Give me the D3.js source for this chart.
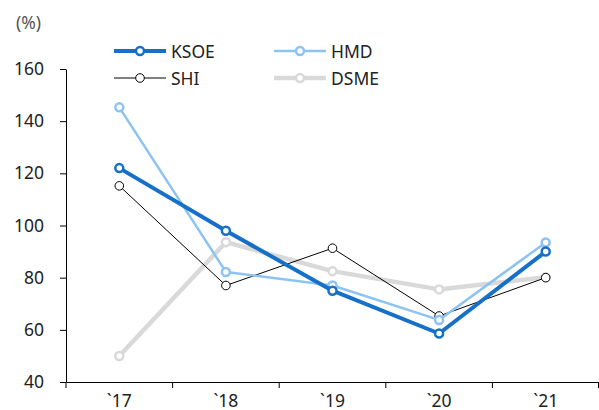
<!DOCTYPE html>
<html><head><meta charset="utf-8">
<script src="https://cdn.jsdelivr.net/npm/d3@7"></script>
<style>body{margin:0;background:#fff}svg{display:block;font-family:"Noto Sans",sans-serif}</style>
</head><body><svg id="c" width="599" height="410"></svg>
<script>
const categories = ["`17","`18","`19","`20","`21"];
const ksoe = [122, 98, 75, 58.6, 90];
const hmd  = [145.3, 82.2, 77, 63.8, 93.5];
const shi  = [115.2, 77, 91.3, 65.3, 80];
const dsme = [50, 93.6, 82.5, 75.5, 80.2];
const yTicks = [40, 60, 80, 100, 120, 140, 160];

const series = [
  {name:"DSME", values:dsme, color:"#d9d9d9", w:4.5},
  {name:"SHI", values:shi, color:"#000000", w:1},
  {name:"HMD", values:hmd, color:"#8dc3f2", w:2.5},
  {name:"KSOE", values:ksoe, color:"#1670c8", w:4}
];
const FS = 17.5;

const svg = d3.select("#c");
const x = d3.scaleBand().domain(categories).range([66, 599]);
const y = d3.scaleLinear().domain([40, 160]).range([382, 69]);

const gx = svg.append("g").attr("transform","translate(0,382)")
  .call(d3.axisBottom(x).tickSize(0).tickPadding(13));
gx.select(".domain").attr("stroke","#000");
gx.selectAll("text").attr("font-size",FS).attr("fill","#222").attr("font-family","Noto Sans");
const bounds = categories.map(c=>x(c)).concat([x.range()[1]-0.5]);
svg.append("g").selectAll("line").data(bounds).join("line")
  .attr("x1",d=>d).attr("x2",d=>d).attr("y1",382).attr("y2",388).attr("stroke","#000");

const gy = svg.append("g").attr("transform","translate(66,0)")
  .call(d3.axisLeft(y).tickValues(yTicks).tickSize(6).tickPadding(16).tickSizeOuter(0));
gy.select(".domain").attr("stroke","#000");
gy.selectAll(".tick line").attr("stroke","#000");
gy.selectAll("text").attr("font-size",FS).attr("fill","#222").attr("font-family","Noto Sans");

svg.append("text").attr("x",16).attr("y",29).text("(%)").attr("font-size",FS).attr("fill","#555");

const line = d3.line().x((d,i)=>x(categories[i])+x.bandwidth()/2).y(d=>y(d));
series.forEach(s=>{
  svg.append("path").datum(s.values).attr("d",line).attr("fill","none")
    .attr("stroke",s.color).attr("stroke-width",s.w).attr("stroke-linejoin","round");
  svg.append("g").selectAll("circle").data(s.values).join("circle")
    .attr("cx",(d,i)=>x(categories[i])+x.bandwidth()/2).attr("cy",d=>y(d))
    .attr("r", s.w>=2.5 ? 4 : 4.3).attr("fill","#fff").attr("stroke",s.color)
    .attr("stroke-width", s.w>=2.5 ? 2.5 : 1);
});

const legend = [
  {name:"KSOE", color:"#1670c8", w:4, lx:114, ly:51},
  {name:"HMD", color:"#8dc3f2", w:2.5, lx:274, ly:51},
  {name:"SHI", color:"#000000", w:1, lx:114, ly:78},
  {name:"DSME", color:"#d9d9d9", w:4.5, lx:274, ly:78}
];
legend.forEach(l=>{
  const g = svg.append("g");
  g.append("line").attr("x1",l.lx).attr("x2",l.lx+52).attr("y1",l.ly).attr("y2",l.ly)
    .attr("stroke",l.color).attr("stroke-width",l.w);
  g.append("circle").attr("cx",l.lx+26).attr("cy",l.ly).attr("r",l.w>=2.5?4:4.3)
    .attr("fill","#fff").attr("stroke",l.color).attr("stroke-width",l.w>=2.5?2.5:1);
  g.append("text").attr("x",l.lx+57).attr("y",l.ly+6.5).text(l.name)
    .attr("font-size",FS).attr("fill","#222");
});
</script></body></html>
